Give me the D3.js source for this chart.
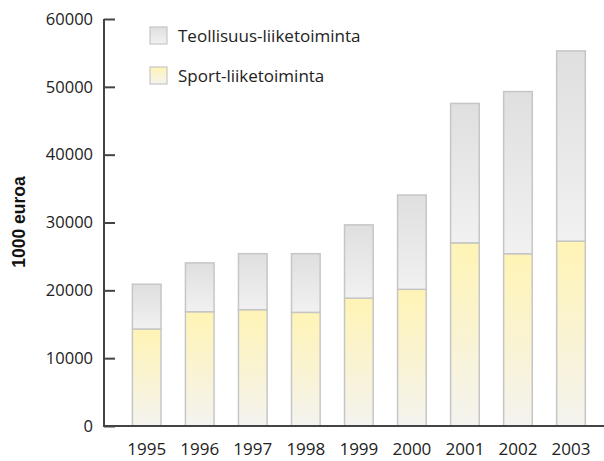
<!DOCTYPE html>
<html>
<head>
<meta charset="utf-8">
<script src="https://cdn.jsdelivr.net/npm/d3@7"></script>
<style>
  body { margin: 0; background: #fff; }
  text { font-family: "Open Sans", Lato, sans-serif; fill: #222; }
</style>
</head>
<body>
<svg id="chart" width="604" height="461"></svg>
<script>
// Data
var years = ["1995", "1996", "1997", "1998", "1999", "2000", "2001", "2002", "2003"];
var sport = [14300, 16850, 17150, 16750, 18850, 20150, 27000, 25400, 27250];
var teollisuus = [6600, 7200, 8250, 8650, 10800, 13900, 20550, 23900, 28050];
var seriesNames = ["Teollisuus-liiketoiminta", "Sport-liiketoiminta"];
var yTicks = [0, 10000, 20000, 30000, 40000, 50000, 60000];

var svg = d3.select("#chart");

// Gradients
var defs = svg.append("defs");
var gGray = defs.append("linearGradient").attr("id", "gradGray")
    .attr("x1", 0).attr("y1", 0).attr("x2", 0).attr("y2", 1);
gGray.append("stop").attr("offset", "0%").attr("stop-color", "#dfdfdf");
gGray.append("stop").attr("offset", "100%").attr("stop-color", "#f1f1f1");

var gYellow = defs.append("linearGradient").attr("id", "gradYellow")
    .attr("x1", 0).attr("y1", 0).attr("x2", 0).attr("y2", 1);
gYellow.append("stop").attr("offset", "0%").attr("stop-color", "#fff4b5");
gYellow.append("stop").attr("offset", "100%").attr("stop-color", "#f4f3ef");

// Scales
var x = d3.scaleBand()
    .domain(years)
    .range([120.2, 597.5])
    .paddingInner(0.46)
    .paddingOuter(0.23);

var y = d3.scaleLinear()
    .domain([0, 60000])
    .range([426, 19]);

// Stack
var rows = years.map(function(d, i) {
    return { year: d, sport: sport[i], teollisuus: teollisuus[i] };
});
var stack = d3.stack().keys(["sport", "teollisuus"])(rows);
var fills = { sport: "url(#gradYellow)", teollisuus: "url(#gradGray)" };

svg.append("g")
    .selectAll("g")
    .data(stack)
    .enter()
    .append("g")
    .attr("fill", function(d) { return fills[d.key]; })
    .selectAll("rect")
    .data(function(d) { return d; })
    .enter()
    .append("rect")
    .attr("x", function(d) { return x(d.data.year); })
    .attr("y", function(d) { return y(d[1]); })
    .attr("width", x.bandwidth())
    .attr("height", function(d) { return y(d[0]) - y(d[1]); })
    .attr("stroke", "#c6c6c6")
    .attr("stroke-width", 1.5);

// Y axis
var yAxis = svg.append("g")
    .attr("transform", "translate(104,0)")
    .call(d3.axisRight(y).tickValues(yTicks).tickSize(11).tickFormat(""));
yAxis.select(".domain").attr("stroke", "#444").attr("stroke-width", 2)
    .attr("d", "M0," + y(60000) + "V" + y(0));
yAxis.selectAll(".tick line").attr("stroke", "#444").attr("stroke-width", 2);

svg.append("g")
    .selectAll("text")
    .data(yTicks)
    .enter()
    .append("text")
    .attr("x", 93)
    .attr("y", function(d) { return y(d); })
    .attr("dy", "0.35em")
    .attr("text-anchor", "end")
    .style("font-size", "16.5px")
    .text(function(d) { return d; });

// X axis
var xAxis = svg.append("g")
    .attr("transform", "translate(0," + y(0) + ")")
    .call(d3.axisBottom(x).tickSize(0).tickPadding(12));
xAxis.select(".domain").attr("stroke", "#444").attr("stroke-width", 2)
    .attr("d", "M103,0H604");
xAxis.selectAll(".tick text")
    .attr("dy", "1em")
    .style("font-size", "17px")
    .style("font-family", "'Open Sans', Lato, sans-serif")
    .attr("fill", "#222");

// Y label
svg.append("text")
    .attr("transform", "translate(25,222)rotate(-90)")
    .attr("text-anchor", "middle")
    .style("font-family", "'Liberation Sans', Arial, sans-serif")
    .style("font-weight", "bold")
    .style("font-size", "17.5px")
    .style("fill", "#111")
    .text("1000 euroa");

// Legend
var legendFills = ["url(#gradGray)", "url(#gradYellow)"];
var legend = svg.append("g");
var legenditem = legend.selectAll(".legenditem")
    .data(seriesNames)
    .enter()
    .append("g")
    .attr("class", "legenditem")
    .attr("transform", function(d, i) { return "translate(150," + (27 + i * 40) + ")"; });

legenditem.append("rect")
    .attr("width", 17)
    .attr("height", 17)
    .attr("fill", function(d, i) { return legendFills[i]; })
    .attr("stroke", "#c6c6c6")
    .attr("stroke-width", 1.2);

legenditem.append("text")
    .attr("x", 28)
    .attr("y", 9)
    .attr("dy", "0.35em")
    .style("font-size", "17px")
    .text(function(d) { return d; });
</script>
</body>
</html>
